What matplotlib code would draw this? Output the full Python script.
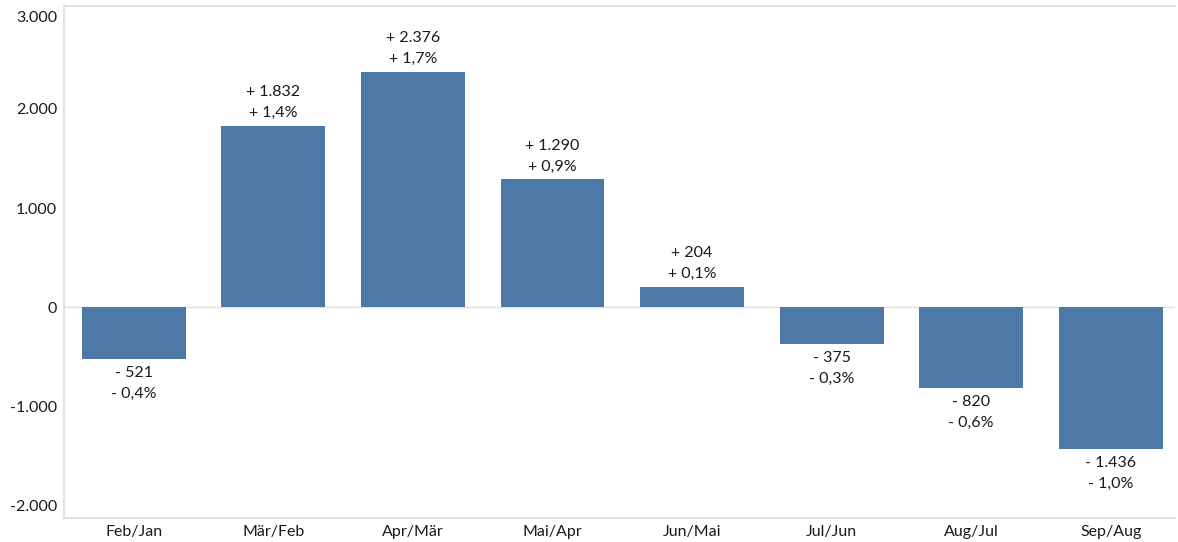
import matplotlib
matplotlib.use("Agg")
import matplotlib.pyplot as plt
import matplotlib.transforms as mtransforms

categories = ["Feb/Jan", "Mär/Feb", "Apr/Mär", "Mai/Apr", "Jun/Mai", "Jul/Jun", "Aug/Jul", "Sep/Aug"]
values = [-521, 1832, 2376, 1290, 204, -375, -820, -1436]
pcts = [-0.4, 1.4, 1.7, 0.9, 0.1, -0.3, -0.6, -1.0]
yticks = [-2000, -1000, 0, 1000, 2000, 3000]
ytick_labels = ["-2.000", "-1.000", "0", "1.000", "2.000", "3.000"]

plt.rcParams['font.family'] = ['Lato', 'DejaVu Sans']

def fmt_num(v):
    s = f"{abs(v):,}".replace(",", ".")
    return ("+ " if v >= 0 else "- ") + s

def fmt_pct(p):
    s = f"{abs(p):.1f}".replace(".", ",") + "%"
    return ("+ " if p >= 0 else "- ") + s

fig = plt.figure(figsize=(11.78, 5.42), dpi=100)
ax = fig.add_axes([64/1178, 24/542, (1175-64)/1178, (518-6)/542])

x = list(range(len(categories)))
ax.bar(x, values, width=0.745, color="#4E79A7", zorder=2)

for xi, v, p in zip(x, values, pcts):
    txt = fmt_num(v) + "\n" + fmt_pct(p)
    if v >= 0:
        ax.annotate(txt, (xi, v), xytext=(0, 4), textcoords="offset points",
                    ha="center", va="bottom", fontsize=11.5, color="#1a1a1a",
                    linespacing=1.65)
    else:
        ax.annotate(txt, (xi, v), xytext=(0, -5), textcoords="offset points",
                    ha="center", va="top", fontsize=11.5, color="#1a1a1a",
                    linespacing=1.65)

ax.axhline(0, color="#e0e0e0", linewidth=1, zorder=1)
ax.set_xlim(-0.5, 7.46)
ax.set_ylim(-2130, 3040)
ax.set_yticks(yticks)
ax.set_yticklabels(ytick_labels)
ax.set_xticks(x)
ax.set_xticklabels(categories)
ax.tick_params(axis="both", length=0, labelsize=11.5, colors="#1a1a1a")
ax.tick_params(axis="y", pad=5)
ax.tick_params(axis="x", pad=5)

# top tick label sits a bit lower (kept inside the frame)
top_lbl = ax.get_yticklabels()[-1]
top_lbl.set_transform(top_lbl.get_transform() +
                      mtransforms.ScaledTranslation(0, -7/100, fig.dpi_scale_trans))

for side in ["left", "bottom", "top"]:
    ax.spines[side].set_color("#dcdcdc")
    ax.spines[side].set_linewidth(1.2)
ax.spines["right"].set_visible(False)

fig.savefig("out.png", dpi=100)
